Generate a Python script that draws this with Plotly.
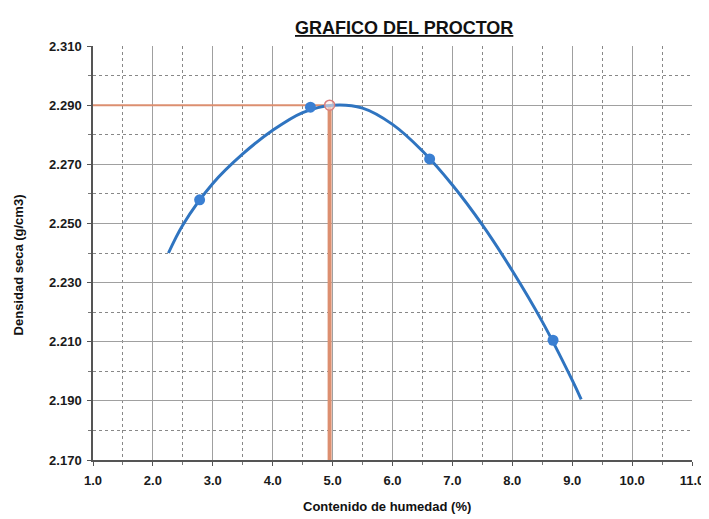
import plotly.graph_objects as go

# Measured points (moisture %, dry density g/cm3)
pts_x = [2.78, 4.63, 6.62, 8.68]
pts_y = [2.258, 2.2893, 2.2718, 2.2105]

# Trend curve
curve_x = [2.26, 2.5, 3.0, 3.5, 4.0, 4.5, 5.0, 5.5, 6.0, 6.5, 7.0, 7.5, 8.0, 8.5, 9.0, 9.15]
curve_y = [2.240, 2.2495, 2.2635, 2.2735, 2.2815, 2.2875, 2.2900, 2.2890, 2.2835,
           2.2745, 2.2630, 2.2495, 2.2340, 2.2168, 2.1970, 2.1905]

# Optimum (max density)
opt_x = 4.95
opt_y = 2.290

x_range = [1.0, 11.0]
y_range = [2.170, 2.310]

title = "GRAFICO DEL PROCTOR"
x_title = "Contenido de humedad (%)"
y_title = "Densidad seca (g/cm3)"

font_family = "Liberation Sans, Arial, sans-serif"
line_col = "#2f74c0"
ref_col = "#dc8f70"

fig = go.Figure()

# Reference lines to optimum
fig.add_trace(go.Scatter(x=[x_range[0], opt_x], y=[opt_y, opt_y], mode="lines",
                         line=dict(color=ref_col, width=2), hoverinfo="skip", showlegend=False))
fig.add_trace(go.Scatter(x=[opt_x, opt_x], y=[y_range[0], opt_y], mode="lines",
                         line=dict(color=ref_col, width=4), hoverinfo="skip", showlegend=False))

# Curve
fig.add_trace(go.Scatter(x=curve_x, y=curve_y, mode="lines",
                         line=dict(color=line_col, width=3, shape="spline", smoothing=1.0),
                         showlegend=False))
# Points
fig.add_trace(go.Scatter(x=pts_x, y=pts_y, mode="markers",
                         marker=dict(color="#3a7fd2", size=11), showlegend=False))
# Optimum marker
fig.add_trace(go.Scatter(x=[opt_x], y=[opt_y], mode="markers",
                         marker=dict(color="rgba(255,235,230,0.6)", size=10,
                                     line=dict(color="#d98080", width=1.5)),
                         showlegend=False))

tick_font = dict(family=font_family, size=13, color="#1a1a1a", weight="bold")

fig.update_layout(
    width=701, height=511,
    margin=dict(l=85, r=17, t=38, b=59, autoexpand=False),
    paper_bgcolor="white", plot_bgcolor="white",
    showlegend=False,
    xaxis=dict(range=x_range, dtick=1.0, tick0=1.0, tickformat=".1f",
               showgrid=True, gridcolor="#a0a0a0", gridwidth=1.3,
               showline=True, linecolor="#555555", linewidth=1.5,
               ticks="outside", ticklen=4, tickcolor="#555555",
               ticklabelstandoff=4, automargin=False,
               tickfont=tick_font, zeroline=False,
               minor=dict(dtick=0.5, showgrid=True, griddash="dot",
                          gridcolor="#888888", gridwidth=1,
                          ticks="outside", ticklen=3, tickcolor="#777777")),
    yaxis=dict(range=y_range, dtick=0.02, tick0=2.170, tickformat=".3f",
               showgrid=True, gridcolor="#a0a0a0", gridwidth=1.3,
               showline=True, linecolor="#555555", linewidth=1.5,
               ticks="outside", ticklen=4, tickcolor="#555555",
               ticklabelstandoff=3, automargin=False,
               tickfont=tick_font, zeroline=False,
               minor=dict(dtick=0.01, showgrid=True, griddash="dot",
                          gridcolor="#888888", gridwidth=1,
                          ticks="outside", ticklen=3, tickcolor="#777777")),
    annotations=[
        dict(text="<b><u>" + title + "</u></b>", xref="paper", yref="paper",
             x=0.52, y=1.0, xanchor="center", yanchor="bottom", yshift=6,
             showarrow=False, font=dict(family=font_family, size=18, color="#111111")),
        dict(text="<b>" + x_title + "</b>", xref="paper", yref="paper",
             x=0.49, y=0, xanchor="center", yanchor="top", yshift=-37,
             showarrow=False, font=dict(family=font_family, size=13, color="#111111")),
        dict(text="<b>" + y_title + "</b>", xref="paper", yref="paper",
             x=0, y=0.47, xanchor="center", yanchor="middle", xshift=-75,
             textangle=-90, showarrow=False,
             font=dict(family=font_family, size=13, color="#111111")),
    ],
)

fig.write_html("out.html")
